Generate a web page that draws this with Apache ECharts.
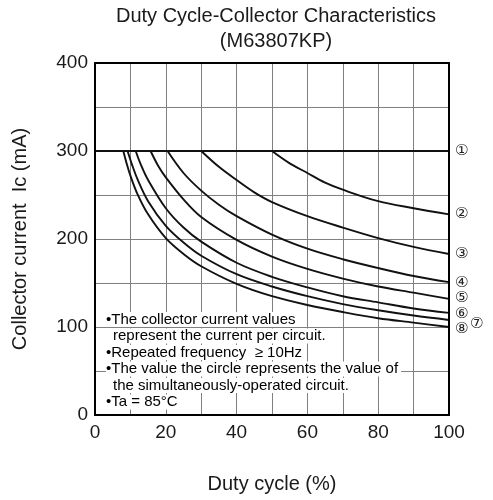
<!DOCTYPE html>
<html><head><meta charset="utf-8">
<script src="https://cdn.jsdelivr.net/npm/echarts@6/dist/echarts.min.js"></script>
<style>html,body{margin:0;padding:0;background:#fff}#c{width:493px;height:500px}</style>
</head><body><div id="c"></div>
<script>
// ---- data ----
const curveNames = ['①','②','③','④','⑤','⑥','⑦','⑧'];
const duty1 = [0, 100];
const ic1   = [300, 300];
const duty2 = [50, 55, 60, 65, 70, 80, 90, 100];
const ic2   = [300, 286, 275, 264, 256, 243, 235, 228];
const duty3 = [30, 35, 40, 45, 50, 60, 70, 80, 90, 100];
const ic3   = [300, 282, 267, 253, 242, 226, 213, 201, 191, 183];
const duty4 = [20.5, 25, 30, 35, 40, 50, 60, 70, 80, 90, 100];
const ic4   = [300, 275, 255, 239, 226, 205, 189, 177, 167, 158, 151];
const duty5 = [15.7, 18, 20, 25, 30, 40, 50, 60, 70, 80, 90, 100];
const ic5   = [300, 282, 270, 245, 225, 199, 180, 166, 155, 146, 139, 132];
const duty6 = [11.5, 13, 15, 20, 25, 30, 40, 50, 60, 70, 80, 90, 100];
const ic6   = [300, 284, 267, 235, 213, 197, 173, 157, 145, 135, 128, 121, 116];
const duty7 = [9.2, 10.5, 12, 15, 20, 25, 30, 40, 50, 60, 70, 80, 90, 100];
const ic7   = [300, 284, 268, 243, 215, 196, 181, 160, 146, 135, 126, 119, 113, 108];
const duty8 = [8, 9, 10, 12, 15, 20, 25, 30, 40, 50, 60, 70, 80, 90, 100];
const ic8   = [300, 285, 272, 251, 228, 201, 183, 169, 149, 135, 125, 117, 110, 105, 100];
const xTicks = [0, 20, 40, 60, 80, 100];
const yTicks = [0, 100, 200, 300, 400];
const noteLines = [
  '•The collector current values',
  'represent the current per circuit.',
  '•Repeated frequency  ≥ 10Hz',
  '•The value the circle represents the value of',
  'the simultaneously-operated circuit.',
  '•Ta = 85°C'
];

const dutyAll = [duty1, duty2, duty3, duty4, duty5, duty6, duty7, duty8];
const icAll = [ic1, ic2, ic3, ic4, ic5, ic6, ic7, ic8];
const labelOffsets = [[0,0],[0,0],[0,0],[0,1],[0,-1],[0,1],[15,4],[0,2]];

const FONT = '"Liberation Sans", Arial, sans-serif';
const series = curveNames.map((n, i) => ({
  type: 'line',
  name: n,
  data: dutyAll[i].map((d, k) => [d, icAll[i][k]]),
  smooth: i === 0 ? false : 0.35,
  showSymbol: false,
  symbol: 'none',
  lineStyle: { color: '#111', width: i === 0 ? 2.2 : 1.9 },
  z: 5,
  endLabel: {
    show: true,
    formatter: n,
    distance: 6,
    offset: labelOffsets[i],
    fontSize: 15,
    color: '#222',
    fontFamily: '"DejaVu Sans", "Liberation Sans", sans-serif'
  },
  animation: false
}));

const richStyle = {
  a: { backgroundColor: '#fff', fontSize: 15, lineHeight: 16.5, fontFamily: FONT, color: '#1a1a1a', padding: [0, 3, 0, 0] },
  b: { backgroundColor: '#fff', fontSize: 15, lineHeight: 16.5, fontFamily: FONT, color: '#1a1a1a', padding: [0, 3, 0, 7] }
};
const noteText = noteLines.map(l => (l.startsWith('•') ? '{a|' : '{b|') + l + '}').join('\n');

const chart = echarts.init(document.getElementById('c'), null, { renderer: 'canvas' });
chart.setOption({
  animation: false,
  backgroundColor: '#fff',
  title: {
    text: 'Duty Cycle-Collector Characteristics\n(M63807KP)',
    left: 271, top: -1, textAlign: 'center',
    textStyle: { fontSize: 20, fontWeight: 'normal', color: '#1a1a1a', lineHeight: 25, fontFamily: FONT }
  },
  grid: { left: 95, right: 44, top: 63, bottom: 85, show: true, borderColor: '#000', borderWidth: 2, z: 10 },
  xAxis: {
    type: 'value', min: 0, max: 100, interval: 10,
    name: 'Duty cycle (%)', nameLocation: 'middle', nameGap: 59,
    nameTextStyle: { fontSize: 20, color: '#1a1a1a', fontFamily: FONT },
    axisLine: { show: true, lineStyle: { color: '#000', width: 2 } },
    axisTick: { show: false },
    axisLabel: { fontSize: 19, color: '#1a1a1a', fontFamily: FONT, margin: 8,
      formatter: v => xTicks.includes(v) ? String(v) : '' , showMaxLabel: true},
    splitLine: { show: true, lineStyle: { color: '#808080', width: 1 } }
  },
  yAxis: {
    type: 'value', min: 0, max: 400, interval: 50,
    name: 'Collector current  Ic (mA)', nameLocation: 'middle', nameGap: 65,
    nameTextStyle: { fontSize: 20, color: '#1a1a1a', fontFamily: FONT },
    axisLine: { show: true, lineStyle: { color: '#000', width: 2 } },
    axisTick: { show: false },
    axisLabel: { fontSize: 19, color: '#1a1a1a', fontFamily: FONT, margin: 7,
      formatter: v => yTicks.includes(v) ? String(v) : '' },
    splitLine: { show: true, lineStyle: { color: '#808080', width: 1 } }
  },
  series: series,
  graphic: [{
    type: 'text', left: 106, top: 312, z: 20,
    style: { text: noteText, rich: richStyle, font: '15px ' + FONT }
  }]
});
</script></body></html>
